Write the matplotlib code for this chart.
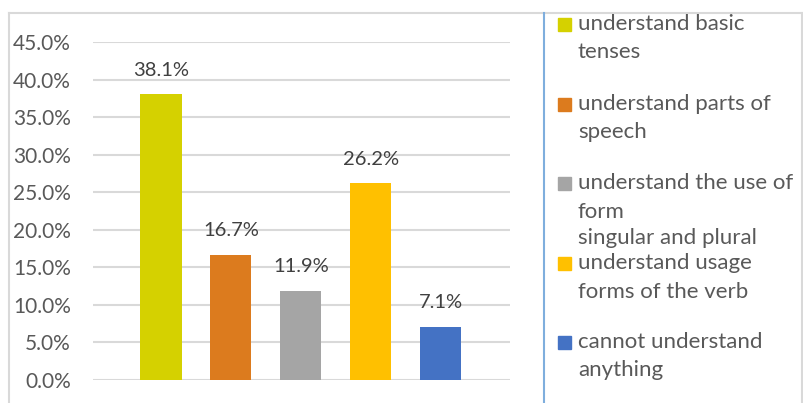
import matplotlib.pyplot as plt
from matplotlib.patches import Rectangle
from matplotlib.lines import Line2D
from matplotlib.ticker import PercentFormatter

# values per group, in percent
labels = ["understand basic tenses",
          "understand parts of speech",
          "understand the use of form singular and plural",
          "understand usage forms of the verb",
          "cannot understand anything"]
values = [38.1, 16.7, 11.9, 26.2, 7.1]
colors = ["#D5D100", "#DC7B1E", "#A5A5A5", "#FFC000", "#4472C4"]
yticks = [0, 5, 10, 15, 20, 25, 30, 35, 40, 45]

# legend text as wrapped on screen
legend_lines = [["understand basic", "tenses"],
                ["understand parts of", "speech"],
                ["understand the use of", "form", "singular and plural"],
                ["understand usage", "forms of the verb"],
                ["cannot understand", "anything"]]

plt.rcParams['font.family'] = ['Lato', 'DejaVu Sans']
txt = "#595959"

W, H = 804, 403
fig = plt.figure(figsize=(W / 100, H / 100), dpi=100)
ax = fig.add_axes([93 / W, (H - 380) / H, (510 - 93) / W, 338 / H])

x = list(range(len(values)))
ax.bar(x, values, width=0.59, color=colors, zorder=2)
for xi, v in zip(x, values):
    ax.annotate(f"{v:.1f}%", (xi, v), xytext=(0, 11), textcoords="offset points",
                ha="center", va="bottom", fontsize=14.5, color="#404040")

ax.set_xlim(-0.97, 4.99)
ax.set_ylim(0, 45)
ax.set_yticks(yticks)
ax.yaxis.set_major_formatter(PercentFormatter(decimals=1))
ax.yaxis.grid(True, color="#D9D9D9", linewidth=1.5, zorder=0)
ax.set_xticks([])
for s in ax.spines.values():
    s.set_visible(False)
ax.tick_params(axis="y", length=0, pad=16, labelsize=15, labelcolor=txt)

# outer frame and legend divider
fig.add_artist(Line2D([9 / W, 9 / W], [0, 1 - 13 / H], transform=fig.transFigure,
                      color="#D9D9D9", lw=1.5))
fig.add_artist(Line2D([9 / W, 1], [1 - 13 / H, 1 - 13 / H], transform=fig.transFigure,
                      color="#D9D9D9", lw=1.5))
fig.add_artist(Line2D([802 / W, 802 / W], [0, 1 - 13 / H], transform=fig.transFigure,
                      color="#D9D9D9", lw=1.5))
fig.add_artist(Line2D([544 / W, 544 / W], [0, 1 - 13 / H], transform=fig.transFigure,
                      color="#7FAEDD", lw=1.5))

# legend entries
starts = [24, 104, 183, 263, 342]
line_h = 28.5
for lines, c, y0 in zip(legend_lines, colors, starts):
    fig.add_artist(Rectangle((558 / W, 1 - (y0 + 7) / H), 13 / W, 13 / H,
                             transform=fig.transFigure, color=c))
    for i, t in enumerate(lines):
        yy = y0 + i * line_h
        if len(lines) == 3 and i == 2:
            yy = 238
        fig.text(578 / W, 1 - yy / H, t, fontsize=16, color=txt, va="center", ha="left")

fig.savefig("out.png", dpi=100)
